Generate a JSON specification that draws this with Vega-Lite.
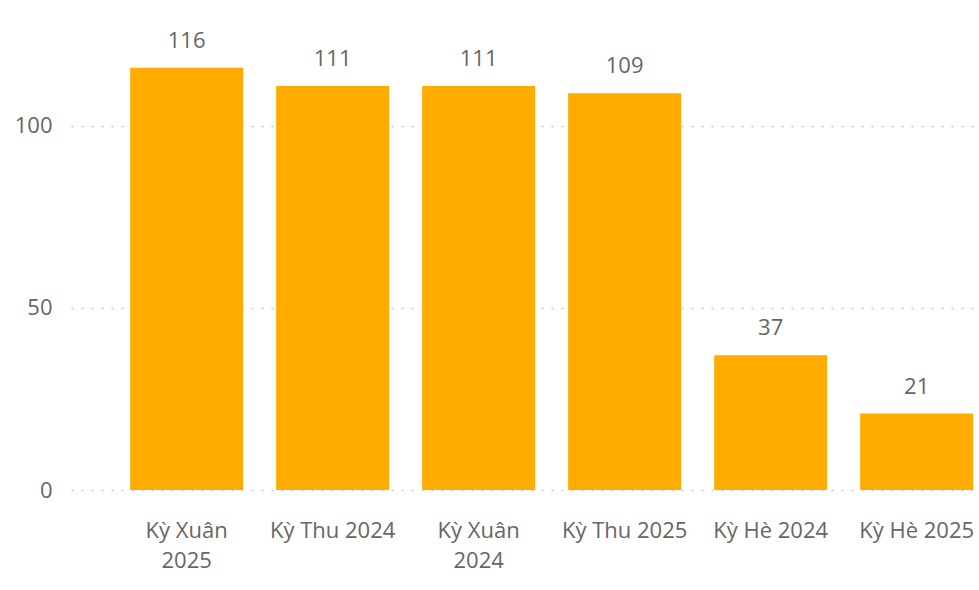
{
  "$schema": "https://vega.github.io/schema/vega-lite/v6.json",
  "width": 908,
  "height": 490,
  "autosize": {"type": "none"},
  "padding": {"left": 71, "top": 0, "right": 0, "bottom": 100},
  "background": "white",
  "config": {
    "view": {"stroke": null},
    "font": "Open Sans",
    "axis": {"labelFont": "Open Sans", "labelColor": "#666666", "labelFontSize": 22}
  },
  "data": {
    "values": [
      {"ky": "Kỳ Xuân 2025", "so": 116},
      {"ky": "Kỳ Thu 2024", "so": 111},
      {"ky": "Kỳ Xuân 2024", "so": 111},
      {"ky": "Kỳ Thu 2025", "so": 109},
      {"ky": "Kỳ Hè 2024", "so": 37},
      {"ky": "Kỳ Hè 2025", "so": 21}
    ]
  },
  "encoding": {
    "x": {
      "field": "ky",
      "type": "nominal",
      "sort": null,
      "scale": {"paddingInner": 0.226, "paddingOuter": 0.2226, "align": 0.91},
      "axis": {
        "title": null,
        "domain": false,
        "ticks": false,
        "labelAngle": 0,
        "labelPadding": 30,
        "labelLineHeight": 30,
        "labelExpr": "length(datum.label) > 11 ? [substring(datum.label, 0, lastindexof(datum.label, ' ')), substring(datum.label, lastindexof(datum.label, ' ') + 1)] : datum.label"
      }
    },
    "y": {
      "field": "so",
      "type": "quantitative",
      "scale": {"domain": [0, 134.6], "nice": false},
      "axis": {
        "title": null,
        "domain": false,
        "ticks": false,
        "values": [0, 50, 100],
        "labelPadding": 19,
        "gridColor": "#c8c8c8",
        "gridDash": [2, 8],
        "gridWidth": 1.5
      }
    }
  },
  "layer": [
    {"mark": {"type": "bar", "color": "#FFAB00"}},
    {
      "mark": {"type": "text", "baseline": "alphabetic", "dy": -20, "fontSize": 22, "color": "#666666", "font": "Open Sans"},
      "encoding": {"text": {"field": "so", "type": "quantitative"}}
    }
  ]
}
